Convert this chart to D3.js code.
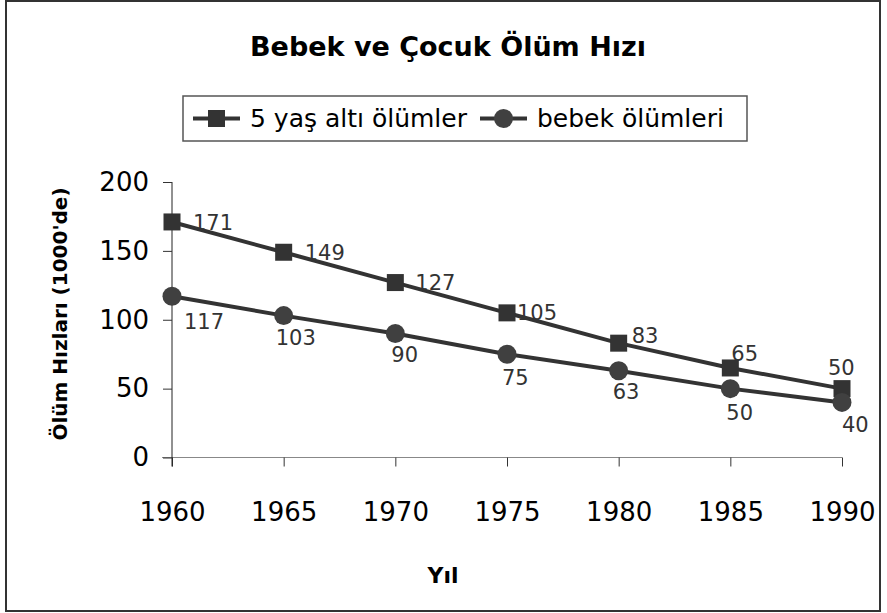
<!DOCTYPE html>
<html lang="tr">
<head>
<meta charset="utf-8">
<title>Bebek ve Çocuk Ölüm Hızı</title>
<script src="https://cdn.jsdelivr.net/npm/d3@7"></script>
<style>
  body { margin: 0; background: #fff; }
  svg text { font-family: "DejaVu Sans", sans-serif; fill: #000; }
  .axis text { font-size: 26px; }
  .ylab .domain { stroke: #222; }
  .xlab .domain { stroke: #888; }
  .axis line { stroke: #333; }
  .dlabel { font-size: 21px; fill: #333 !important; }
</style>
</head>
<body>
<script>
// data
var years = [1960, 1965, 1970, 1975, 1980, 1985, 1990];
var underFive = [171, 149, 127, 105, 83, 65, 50];     // 5 yaş altı ölümler
var infant = [117, 103, 90, 75, 63, 50, 40];          // bebek ölümleri
var yTicks = [0, 50, 100, 150, 200];

// label nudges (Excel moved some of them by hand)
var underFiveOff = [[21, 0], [21, 0], [20, 0], [10, 0], [13, -8], [1, -15], [-14, -21]];
var infantOff = [[12, 25], [-8, 22], [-4, 21], [-5, 23], [-6, 21], [-4, 24], [0, 22]];

var w = 887, h = 613;
var svg = d3.select("body").append("svg")
  .attr("width", w).attr("height", h);

// outer frame
svg.append("rect")
  .attr("x", 6).attr("y", 1)
  .attr("width", 874).attr("height", 610)
  .attr("fill", "#fff").attr("stroke", "#333").attr("stroke-width", 2);

var x = d3.scalePoint().domain(years).range([172, 842]);
var y = d3.scaleLinear().domain([0, 200]).range([457.5, 182]);

// title
svg.append("text")
  .attr("x", 448).attr("y", 47).attr("dy", "0.35em")
  .attr("text-anchor", "middle")
  .style("font-size", "27px").style("font-weight", "bold")
  .text("Bebek ve Çocuk Ölüm Hızı");

// axes
var yAxis = d3.axisLeft(y).tickValues(yTicks).tickSize(9).tickPadding(14);
var xAxis = d3.axisBottom(x).tickSize(9).tickPadding(36).tickFormat(d3.format("d"));

svg.append("g").attr("class", "axis xlab")
  .attr("transform", "translate(0," + y(0) + ")")
  .call(xAxis)
  .call(function(g) { g.select(".domain").attr("d", "M162,0H842"); });

svg.append("g").attr("class", "axis ylab")
  .attr("transform", "translate(" + x(1960) + ",0)")
  .call(yAxis)
  .call(function(g) { g.select(".domain").attr("d", "M0," + y(200) + "V" + (y(0) + 9)); });

svg.append("text")
  .attr("transform", "translate(60," + 314 + ") rotate(-90)")
  .attr("text-anchor", "middle").attr("dy", "0.35em")
  .style("font-size", "20px").style("font-weight", "bold")
  .text("Ölüm Hızları (1000'de)");

svg.append("text")
  .attr("x", 443).attr("y", 575).attr("dy", "0.35em")
  .attr("text-anchor", "middle")
  .style("font-size", "22px").style("font-weight", "bold")
  .text("Yıl");

// series
var line = d3.line()
  .x(function(d, i) { return x(years[i]); })
  .y(function(d) { return y(d); });

var col = "#333";

svg.append("path").datum(infant)
  .attr("d", line).attr("fill", "none")
  .attr("stroke", col).attr("stroke-width", 4);

svg.append("path").datum(underFive)
  .attr("d", line).attr("fill", "none")
  .attr("stroke", col).attr("stroke-width", 4);

svg.selectAll(".sq").data(underFive).enter()
  .append("rect").attr("class", "sq")
  .attr("x", function(d, i) { return x(years[i]) - 8.5; })
  .attr("y", function(d) { return y(d) - 8.5; })
  .attr("width", 17).attr("height", 17)
  .attr("fill", col);

svg.selectAll(".dot").data(infant).enter()
  .append("circle").attr("class", "dot")
  .attr("cx", function(d, i) { return x(years[i]); })
  .attr("cy", function(d) { return y(d); })
  .attr("r", 9.5)
  .attr("fill", "#404040");

// data labels
svg.selectAll(".l5").data(underFive).enter()
  .append("text").attr("class", "dlabel l5")
  .attr("x", function(d, i) { return x(years[i]) + underFiveOff[i][0]; })
  .attr("y", function(d, i) { return y(d) + underFiveOff[i][1]; })
  .attr("dy", "0.36em")
  .text(function(d) { return d; });

svg.selectAll(".lb").data(infant).enter()
  .append("text").attr("class", "dlabel lb")
  .attr("x", function(d, i) { return x(years[i]) + infantOff[i][0]; })
  .attr("y", function(d, i) { return y(d) + infantOff[i][1]; })
  .attr("dy", "0.36em")
  .text(function(d) { return d; });

// legend
var lg = svg.append("g");
lg.append("rect")
  .attr("x", 183).attr("y", 96).attr("width", 564).attr("height", 45)
  .attr("fill", "#fff").attr("stroke", "#555").attr("stroke-width", 1.5);

var legendItems = [
  { name: "5 yaş altı ölümler", x0: 193, shape: "square" },
  { name: "bebek ölümleri", x0: 480, shape: "circle" }
];
legendItems.forEach(function(it) {
  var cy = 118.5;
  lg.append("line")
    .attr("x1", it.x0).attr("x2", it.x0 + 47)
    .attr("y1", cy).attr("y2", cy)
    .attr("stroke", col).attr("stroke-width", 4);
  if (it.shape === "square") {
    lg.append("rect").attr("x", it.x0 + 23.5 - 8.5).attr("y", cy - 8.5)
      .attr("width", 17).attr("height", 17).attr("fill", col);
  } else {
    lg.append("circle").attr("cx", it.x0 + 23.5).attr("cy", cy)
      .attr("r", 9.5).attr("fill", "#404040");
  }
  lg.append("text")
    .attr("x", it.x0 + 57).attr("y", cy).attr("dy", "0.35em")
    .style("font-size", "25px")
    .text(it.name);
});
</script>
</body>
</html>
